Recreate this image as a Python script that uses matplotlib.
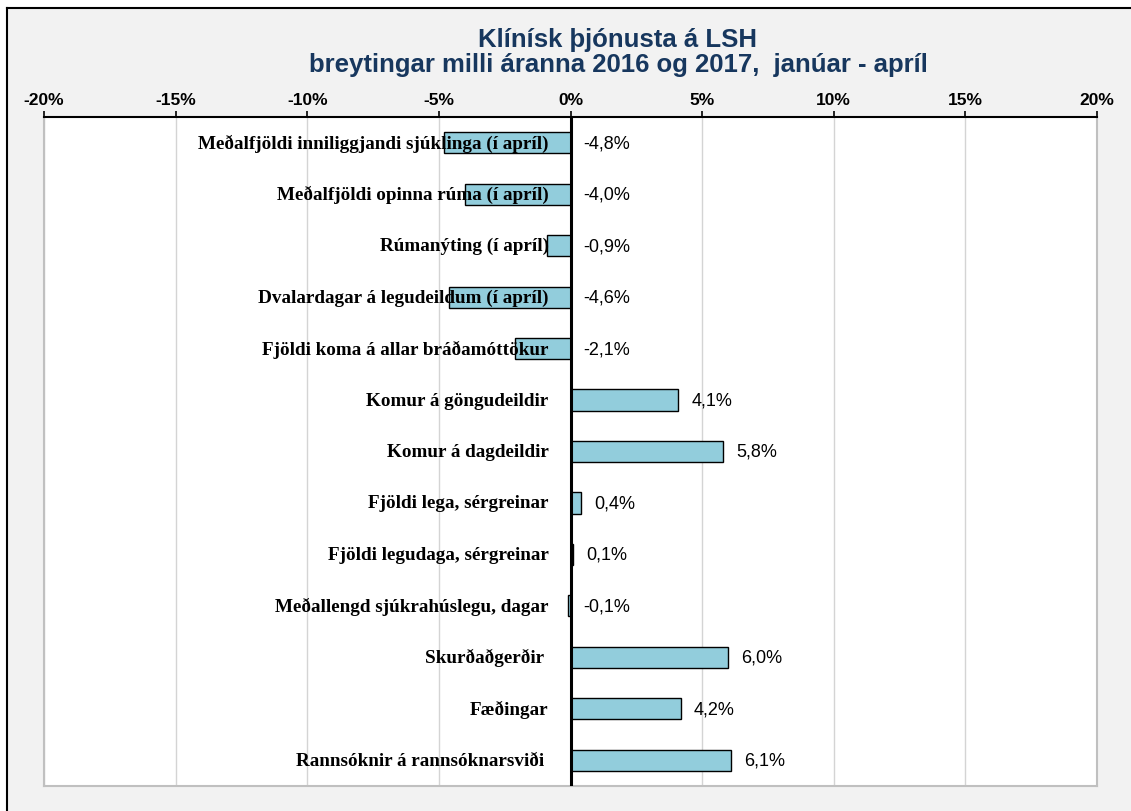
import matplotlib
matplotlib.use("Agg")
import matplotlib.pyplot as plt
from matplotlib.patches import Rectangle
from matplotlib.lines import Line2D

categories = [
    "Meðalfjöldi inniliggjandi sjúklinga (í apríl)",
    "Meðalfjöldi opinna rúma (í apríl)",
    "Rúmanýting (í apríl)",
    "Dvalardagar á legudeildum (í apríl)",
    "Fjöldi koma á allar bráðamóttökur",
    "Komur á göngudeildir",
    "Komur á dagdeildir",
    "Fjöldi lega, sérgreinar",
    "Fjöldi legudaga, sérgreinar",
    "Meðallengd sjúkrahúslegu, dagar",
    "Skurðaðgerðir ",
    "Fæðingar",
    "Rannsóknir á rannsóknarsviði ",
]
values = [-4.8, -4.0, -0.9, -4.6, -2.1, 4.1, 5.8, 0.4, 0.1, -0.1, 6.0, 4.2, 6.1]
xticks = [-20, -15, -10, -5, 0, 5, 10, 15, 20]
xtick_labels = ["-20%", "-15%", "-10%", "-5%", "0%", "5%", "10%", "15%", "20%"]
title_lines = ["Klínísk þjónusta á LSH",
               "breytingar milli áranna 2016 og 2017,  janúar - apríl"]

W, H = 1131, 812
fig = plt.figure(figsize=(W / 100, H / 100), dpi=100)
fig.patch.set_facecolor("white")

# chart area background and border (left/top visible)
fig.patches.append(Rectangle((7 / W, 0), 1 - 7 / W, 1 - 9 / H, transform=fig.transFigure,
                             facecolor="#f2f2f2", edgecolor="none", zorder=-10))
fig.lines.append(Line2D([7 / W, 7 / W], [0, 1 - 9 / H], transform=fig.transFigure,
                        color="black", lw=1.5))
fig.lines.append(Line2D([7 / W, 1], [1 - 9 / H, 1 - 9 / H], transform=fig.transFigure,
                        color="black", lw=1.5))

left, right, top, bottom = 44, 1097, 118, 787
ax = fig.add_axes([left / W, 1 - bottom / H, (right - left) / W, (bottom - top) / H])
ax.set_facecolor("white")

n = len(categories)
ypos = list(range(n))
ax.barh(ypos, values, height=0.41, color="#92cddc", edgecolor="black", linewidth=1.0, zorder=3)
ax.set_xlim(-20, 20)
ax.set_ylim(n - 0.5, -0.5)

ax.xaxis.tick_top()
ax.set_xticks(xticks)
ax.set_xticklabels(xtick_labels, fontsize=12.5, fontweight="bold", family="Liberation Sans")
ax.tick_params(axis="x", direction="out", length=4, width=1.2, color="black", pad=3.5)
ax.set_yticks([])
ax.grid(axis="x", color="#d4d4d4", lw=1.0, zorder=0)

for s in ["left", "right", "bottom"]:
    ax.spines[s].set_color("#c0c0c0")
    ax.spines[s].set_linewidth(1.5)
ax.spines["top"].set_color("black")
ax.spines["top"].set_linewidth(1.5)

ax.axvline(0, color="black", lw=2.2, zorder=5)

for i, (cat, v) in enumerate(zip(categories, values)):
    ax.annotate(cat, xy=(0, i), xytext=(-22, 0), textcoords="offset pixels",
                ha="right", va="center", fontsize=13.75, fontweight="bold",
                family="Liberation Serif", color="black", zorder=6)
    lbl = f"{v:.1f}%".replace(".", ",")
    ax.annotate(lbl, xy=(max(v, 0), i), xytext=(13, 0), textcoords="offset pixels",
                ha="left", va="center", fontsize=13, family="Liberation Sans",
                color="black", zorder=6)

cx = 618 / W
fig.text(cx, 1 - 40 / H, title_lines[0], ha="center", va="center", fontsize=18.5,
         fontweight="bold", family="Liberation Sans", color="#17375e")
fig.text(cx, 1 - 65 / H, title_lines[1], ha="center", va="center", fontsize=18.5,
         fontweight="bold", family="Liberation Sans", color="#17375e")

fig.savefig("out.png", dpi=100, facecolor=fig.get_facecolor())
